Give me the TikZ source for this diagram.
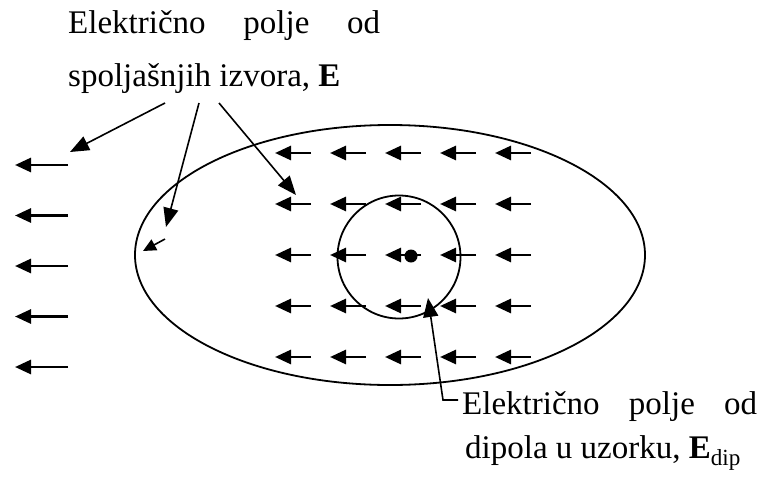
\documentclass[tikz,border=0pt]{standalone}
\usepackage{fontspec}
\setmainfont{Liberation Serif}
\usepackage{tikz}
\usetikzlibrary{shapes.geometric, arrows.meta, positioning, calc}

\begin{document}
\begin{tikzpicture}[x=1pt, y=-1pt,
    lbl/.style={inner sep=0pt, font=\fontsize{33}{40}\selectfont},
    field/.style={-{Triangle[length=16pt, width=14pt]}, line width=2.8pt},
    pointer/.style={-{Triangle[length=19pt, width=15pt]}, line width=1.6pt},
    region/.style={draw, line width=1.8pt, inner sep=0pt}
]
    \useasboundingbox (0,0) rectangle (760,477);

    % Sample and dipole region
    \node[region, ellipse, minimum width=510pt, minimum height=260pt] (sample) at (390,255) {};
    \node[region, circle, minimum size=123pt] (dipreg) at (399,257) {};

    % Field outside the sample
    \foreach \j in {0,...,4} {
        \coordinate (out\j) at (68,{165+50.5*\j});
        \coordinate (outtip\j) at (15,{165+50.5*\j});
        \draw[field] (out\j) -- (outtip\j);
    }

    % Field inside the sample
    \foreach \i in {0,...,4} {
        \foreach \j in {0,...,4} {
            \coordinate (in\i\j) at ({311+55*\i},{153+51*\j});
            \coordinate (intip\i\j) at ({275+55*\i},{153+51*\j});
            \draw[field] (in\i\j) -- (intip\i\j);
        }
    }
    \node[circle, fill, inner sep=0pt, minimum size=13pt] (dipole) at (411,256) {};

    % Labels
    \node[lbl, anchor=base west] (ext1) at (68,33) {\makebox[312pt][s]{Električno polje od}};
    \node[lbl, anchor=base west] (ext2) at (68,86) {spoljašnjih izvora, \textbf{E}};
    \node[lbl, anchor=base west] (dip1) at (462,414) {\makebox[295pt][s]{Električno polje od}};
    \node[lbl, anchor=base west] (dip2) at (465,458) {dipola u uzorku, \textbf{E}\textsubscript{dip}};

    % Pointers from the external label
    \coordinate (pa) at (165,103);
    \coordinate (pb) at (199,103);
    \coordinate (pc) at (219,103);
    \coordinate (ta) at (70,152);
    \coordinate (tb) at (166,227);
    \coordinate (tc) at (296,195);
    \draw[pointer] (pa) -- (ta);
    \draw[pointer] (pb) -- (tb);
    \draw[pointer] (pc) -- (tc);

    % Weak field at the sample edge
    \coordinate (edge) at (165,239);
    \coordinate (edgetip) at (143,251);
    \draw[pointer, -{Triangle[length=13pt, width=12pt]}] (edge) -- (edgetip);

    % Pointer from the dipole label
    \coordinate (dipend) at (458,400);
    \coordinate (dipbend) at (443,400);
    \coordinate (diptip) at (428,298);
    \draw[pointer] (dipend) -- (dipbend) -- (diptip);

\end{tikzpicture}
\end{document}
